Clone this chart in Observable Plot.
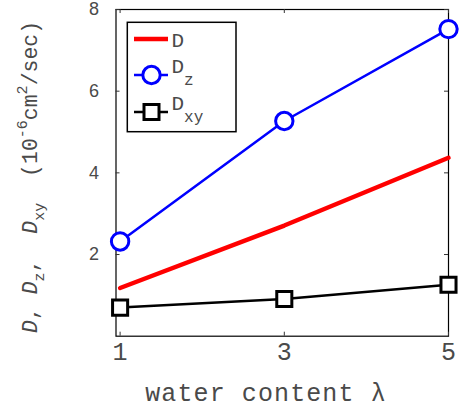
<!DOCTYPE html>
<html>
<head>
<meta charset="utf-8">
<script src="https://cdn.jsdelivr.net/npm/d3@7"></script>
<script src="https://cdn.jsdelivr.net/npm/@observablehq/plot@0.6"></script>
<style>
  html, body { margin: 0; padding: 0; background: #fff; }
  #chart { width: 463px; height: 411px; }
</style>
</head>
<body>
<div id="chart"></div>
<script>
// Diffusion coefficients (10^-6 cm^2/sec) against water content lambda
const lambda = [1, 3, 5];
const dTotal = [1.18, 2.71, 4.37];
const dZ = [2.32, 5.27, 7.52];
const dXY = [0.70, 0.91, 1.26];

const xTicks = [1, 3, 5];
const yTicks = [2, 4, 6, 8];

const W = 463, H = 411;
const mL = 115.5, mR = 15, mT = 9, mB = 75.3;
const plotW = W - mL - mR, plotH = H - mT - mB;
const tickLen = 4;

const rows = (ys) => lambda.map((x, i) => ({x, y: ys[i]}));

const svg = Plot.plot({
  width: W,
  height: H,
  marginLeft: mL,
  marginRight: mR,
  marginTop: mT,
  marginBottom: mB,
  style: {background: "white", overflow: "visible"},
  x: {domain: [0.95, 5], axis: null},
  y: {domain: [0, 8], axis: null},
  marks: [
    Plot.frame({stroke: "black", strokeWidth: 1.2}),
    // inward ticks on all four sides
    Plot.tickY(yTicks, {y: d => d, insetRight: plotW - tickLen, stroke: "#333"}),
    Plot.tickY(yTicks, {y: d => d, insetLeft: plotW - tickLen, stroke: "#333"}),
    Plot.tickX(xTicks, {x: d => d, insetTop: plotH - tickLen, stroke: "#333"}),
    Plot.tickX(xTicks, {x: d => d, insetBottom: plotH - tickLen, stroke: "#333"}),
    Plot.axisX(xTicks, {anchor: "bottom", label: null, tickSize: 0, tickPadding: 6,
      fontFamily: "Liberation Mono", fontSize: 25, fill: "#4a4a4a"}),
    Plot.axisY(yTicks, {anchor: "left", label: null, tickSize: 0, tickPadding: 17,
      fontFamily: "Liberation Sans", fontSize: 18, fill: "#4a4a4a"}),
    Plot.line(rows(dTotal), {x: "x", y: "y", stroke: "#ff0000", strokeWidth: 4.5}),
    Plot.line(rows(dXY), {x: "x", y: "y", stroke: "black", strokeWidth: 2.5}),
    Plot.dot(rows(dXY), {x: "x", y: "y", symbol: "square", r: 8.5,
      stroke: "black", strokeWidth: 3, fill: "white"}),
    Plot.line(rows(dZ), {x: "x", y: "y", stroke: "#0000ff", strokeWidth: 2.5}),
    Plot.dot(rows(dZ), {x: "x", y: "y", r: 8.7,
      stroke: "#0000ff", strokeWidth: 3, fill: "white"})
  ]
});

document.getElementById("chart").appendChild(svg);

const root = d3.select(svg);
const textColor = "#4a4a4a";

// x-axis title
root.append("text")
  .attr("x", 266).attr("y", 401)
  .attr("text-anchor", "middle")
  .attr("font-family", "Liberation Mono")
  .attr("font-size", 25)
  .attr("letter-spacing", 1.1)
  .attr("fill", textColor)
  .text("water content λ");

// y-axis title with sub- and superscripts
const ylab = root.append("text")
  .attr("transform", "translate(37,333) rotate(-90)")
  .attr("text-anchor", "start")
  .attr("font-family", "Liberation Mono")
  .attr("font-size", 21.5)
  .attr("fill", textColor)
  .style("white-space", "pre");
const parts = [
  {t: "D", it: true}, {t: ", "},
  {t: "D", it: true}, {t: "z", sub: true}, {t: ",  "},
  {t: "D", it: true}, {t: "xy", sub: true}, {t: "  (10"},
  {t: "-6", sup: true}, {t: "cm"}, {t: "2", sup: true}, {t: "/sec)"}
];
let shift = 0;
for (const p of parts) {
  const target = p.sub ? 7 : p.sup ? -10 : 0;
  const ts = ylab.append("tspan").text(p.t).attr("dy", target - shift);
  shift = target;
  if (p.it) ts.attr("font-style", "italic");
  if (p.sub || p.sup) ts.attr("font-size", 15);
}

// legend
const lg = root.append("g").attr("text-anchor", "start");
lg.append("rect")
  .attr("x", 127.3).attr("y", 22.3).attr("width", 108.7).attr("height", 109.4)
  .attr("fill", "white").attr("stroke", "black").attr("stroke-width", 1.5);

const sx0 = 134, sx1 = 168, scx = 151.5, tx = 171.5;
const entries = [
  {label: "D", sub: null, y: 39, base: 47, color: "#ff0000", width: 4.5, marker: null},
  {label: "D", sub: "z", y: 75, base: 72.5, color: "#0000ff", width: 2.5, marker: "circle"},
  {label: "D", sub: "xy", y: 112, base: 110, color: "black", width: 2.5, marker: "square"}
];
for (const e of entries) {
  lg.append("line")
    .attr("x1", sx0).attr("x2", sx1).attr("y1", e.y).attr("y2", e.y)
    .attr("stroke", e.color).attr("stroke-width", e.width);
  if (e.marker === "circle") {
    lg.append("circle").attr("cx", scx).attr("cy", e.y).attr("r", 8.7)
      .attr("fill", "white").attr("stroke", e.color).attr("stroke-width", 3);
  } else if (e.marker === "square") {
    lg.append("rect").attr("x", scx - 7.5).attr("y", e.y - 7.5)
      .attr("width", 15).attr("height", 15)
      .attr("fill", "white").attr("stroke", e.color).attr("stroke-width", 3);
  }
  const t = lg.append("text")
    .attr("x", tx).attr("y", e.base)
    .attr("text-anchor", "start")
    .attr("font-family", "Liberation Mono")
    .attr("font-size", 21)
    .attr("fill", textColor);
  t.append("tspan").text(e.label);
  if (e.sub) t.append("tspan").text(e.sub).attr("font-size", 16).attr("dy", 12);
}
</script>
</body>
</html>
